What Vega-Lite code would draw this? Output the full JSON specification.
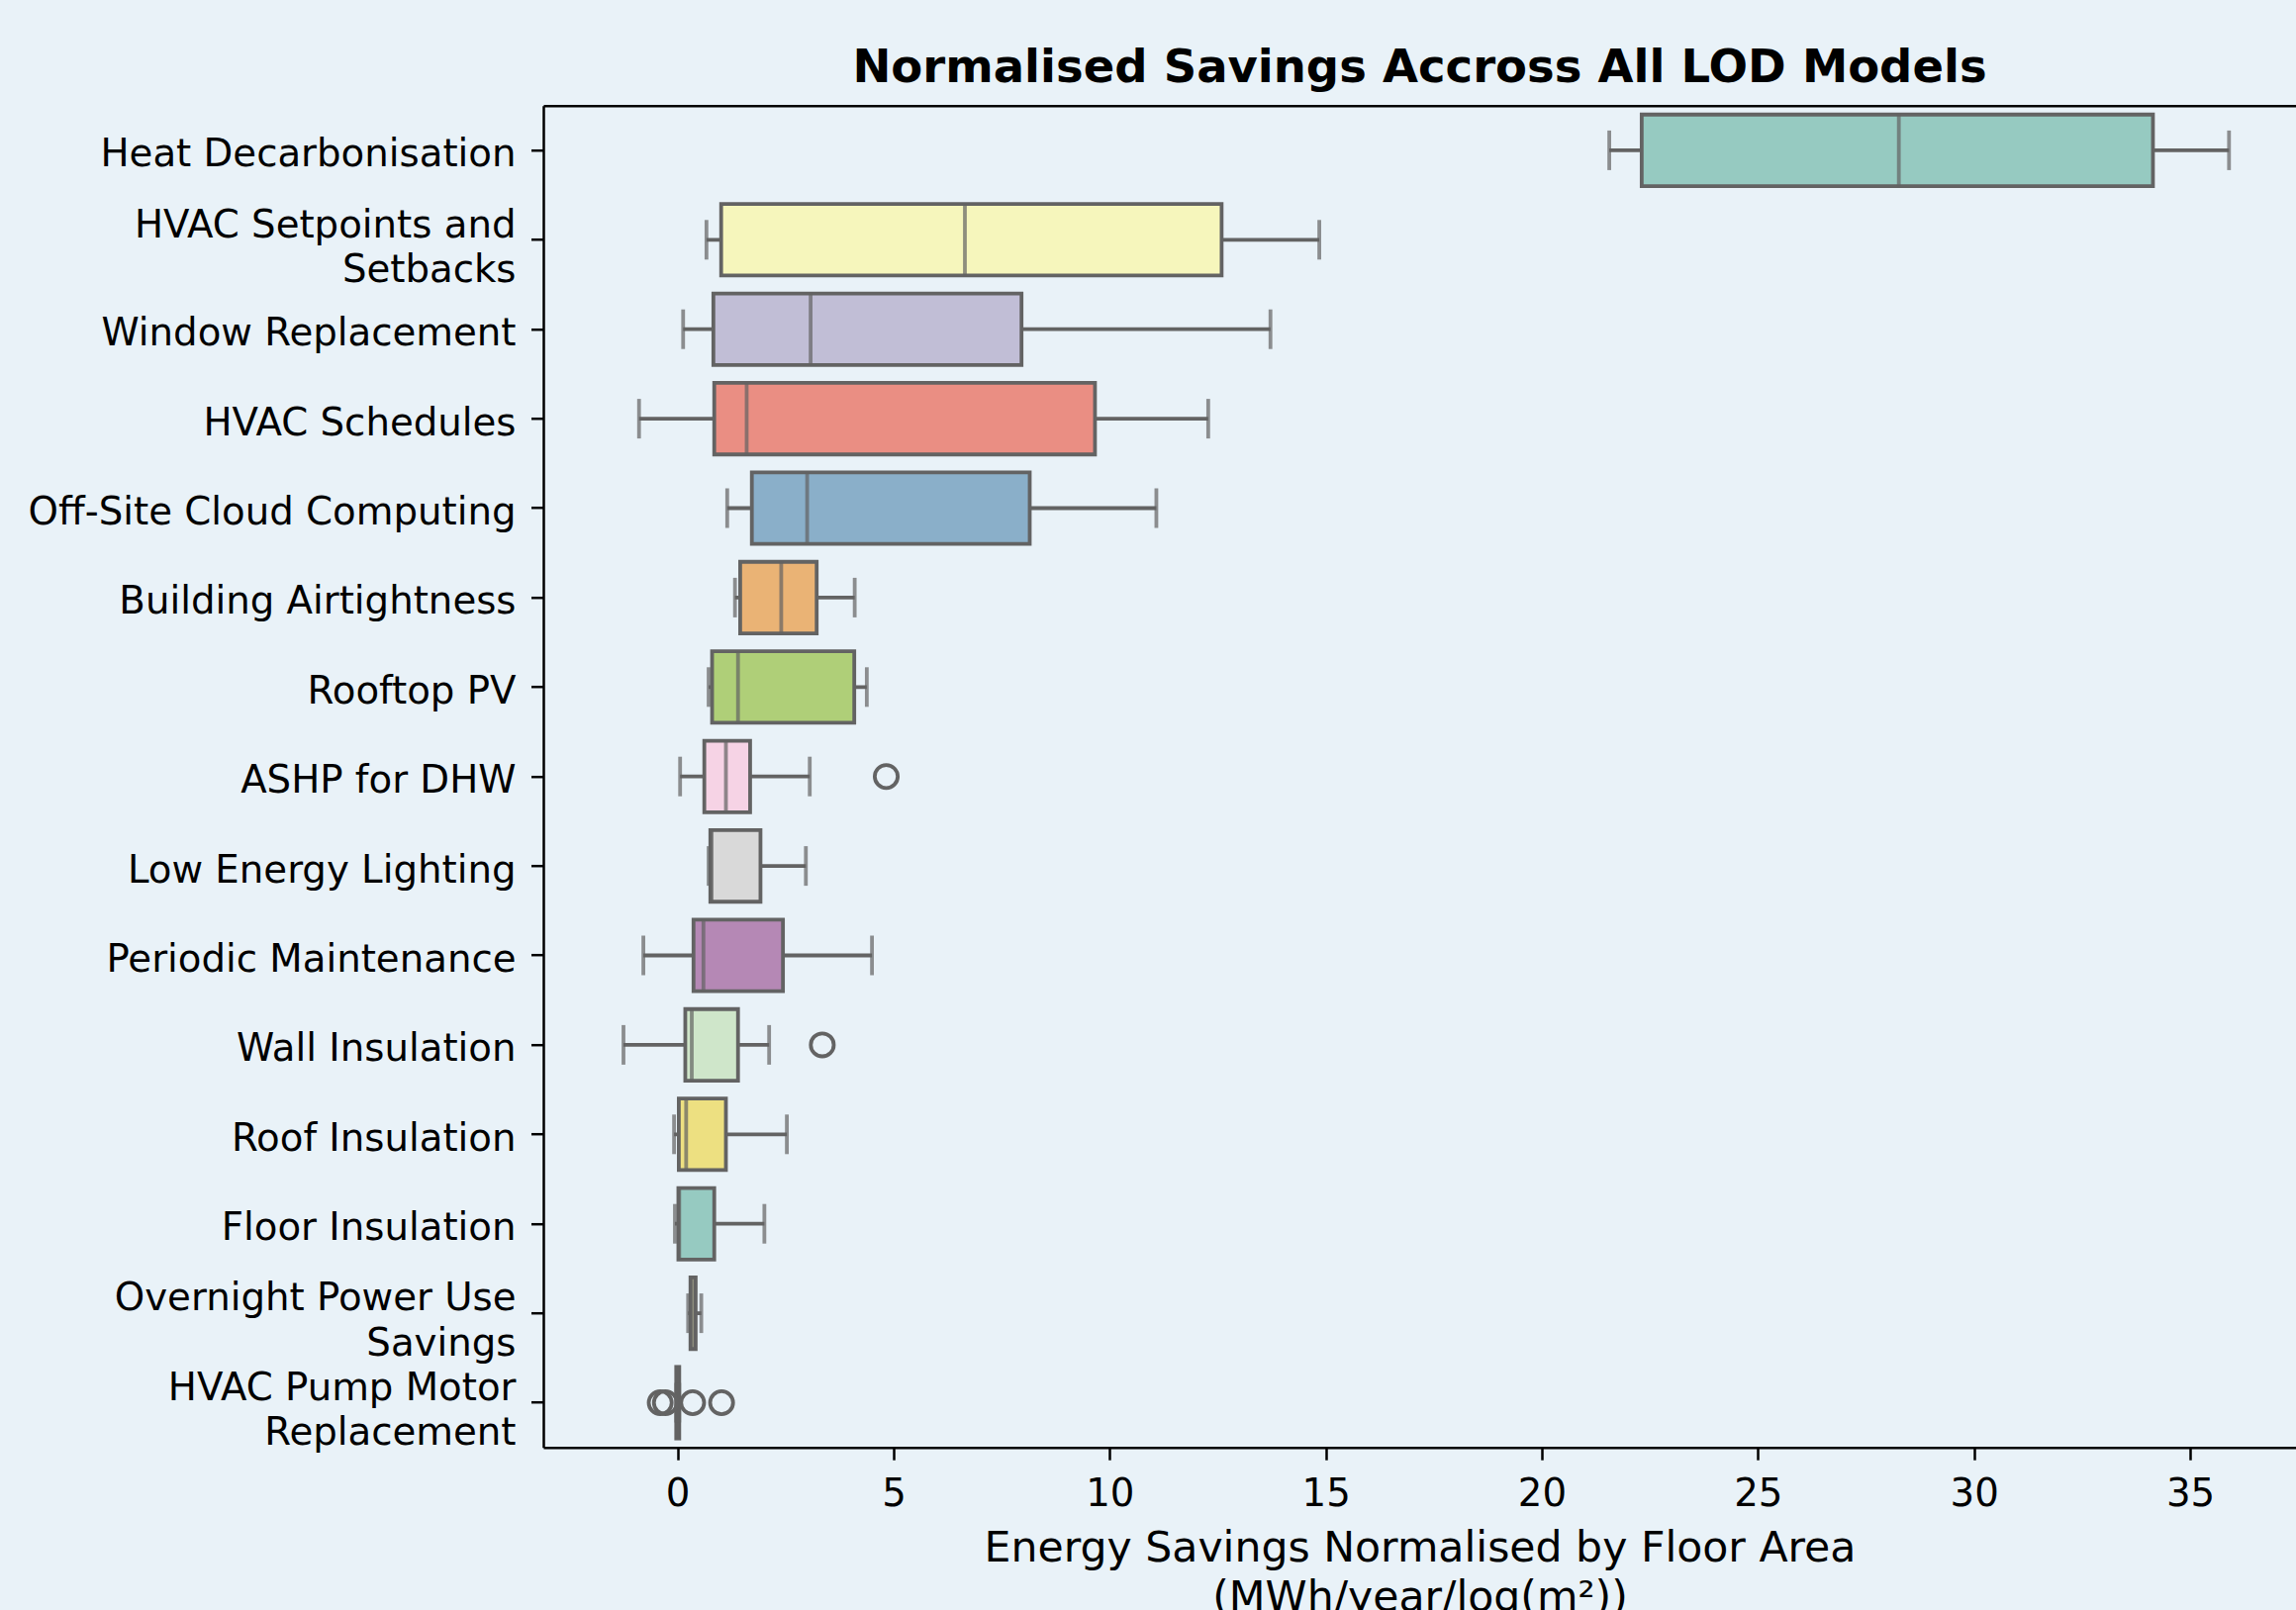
{
  "$schema": "https://vega.github.io/schema/vega-lite/v6.json",
  "autosize": {"type": "none"},
  "padding": {"left": 549, "top": 106.7, "right": 0, "bottom": 164.3},
  "width": 1771,
  "height": 1356,
  "background": "#e9f2f8",
  "config": {
    "view": {"stroke": null},
    "font": "DejaVu Sans",
    "axis": {
      "labelFont": "DejaVu Sans",
      "titleFont": "DejaVu Sans",
      "labelColor": "#000000",
      "titleColor": "#000000",
      "domainColor": "#000000",
      "tickColor": "#000000",
      "domainWidth": 2.5,
      "tickWidth": 2.5,
      "tickSize": 12.5,
      "grid": false
    }
  },
  "title": {
    "text": "Normalised Savings Accross All LOD Models",
    "font": "DejaVu Sans",
    "fontSize": 46.5,
    "fontWeight": "bold",
    "color": "#000000",
    "anchor": "middle",
    "baseline": "alphabetic",
    "offset": -23
  },
  "datasets": {
    "boxes": [
      {"name": "Heat Decarbonisation", "lo": 21.56, "q1": 22.31, "med": 28.26, "q3": 34.14, "hi": 35.90},
      {"name": "HVAC Setpoints and Setbacks", "lo": 0.67, "q1": 1.01, "med": 6.65, "q3": 12.59, "hi": 14.85},
      {"name": "Window Replacement", "lo": 0.13, "q1": 0.83, "med": 3.08, "q3": 7.96, "hi": 13.72},
      {"name": "HVAC Schedules", "lo": -0.89, "q1": 0.85, "med": 1.60, "q3": 9.66, "hi": 12.28},
      {"name": "Off-Site Cloud Computing", "lo": 1.15, "q1": 1.72, "med": 3.00, "q3": 8.15, "hi": 11.08},
      {"name": "Building Airtightness", "lo": 1.33, "q1": 1.45, "med": 2.40, "q3": 3.22, "hi": 4.10},
      {"name": "Rooftop PV", "lo": 0.72, "q1": 0.80, "med": 1.40, "q3": 4.09, "hi": 4.38},
      {"name": "ASHP for DHW", "lo": 0.06, "q1": 0.62, "med": 1.12, "q3": 1.68, "hi": 3.06},
      {"name": "Low Energy Lighting", "lo": 0.72, "q1": 0.76, "med": 0.79, "q3": 1.92, "hi": 2.97},
      {"name": "Periodic Maintenance", "lo": -0.79, "q1": 0.37, "med": 0.60, "q3": 2.44, "hi": 4.50},
      {"name": "Wall Insulation", "lo": -1.25, "q1": 0.18, "med": 0.33, "q3": 1.40, "hi": 2.12},
      {"name": "Roof Insulation", "lo": -0.08, "q1": 0.03, "med": 0.20, "q3": 1.12, "hi": 2.53},
      {"name": "Floor Insulation", "lo": -0.06, "q1": 0.02, "med": 0.04, "q3": 0.85, "hi": 2.01},
      {"name": "Overnight Power Use Savings", "lo": 0.245, "q1": 0.30, "med": 0.36, "q3": 0.42, "hi": 0.55},
      {"name": "HVAC Pump Motor Replacement", "lo": -0.03, "q1": -0.03, "med": 0.0, "q3": 0.04, "hi": 0.04}
    ],
    "outliers": [
      {"name": "ASHP for DHW", "value": 4.83},
      {"name": "Wall Insulation", "value": 3.35},
      {"name": "HVAC Pump Motor Replacement", "value": -0.40},
      {"name": "HVAC Pump Motor Replacement", "value": -0.28},
      {"name": "HVAC Pump Motor Replacement", "value": 0.35},
      {"name": "HVAC Pump Motor Replacement", "value": 1.02}
    ]
  },
  "resolve": {"axis": {"x": "independent"}},
  "layer": [
    {
      "data": {"name": "boxes"},
      "mark": {"type": "rule", "color": "#636363", "strokeWidth": 3.8},
      "encoding": {
        "y": {
          "field": "name", "type": "nominal",
          "sort": ["Heat Decarbonisation", "HVAC Setpoints and Setbacks", "Window Replacement", "HVAC Schedules", "Off-Site Cloud Computing", "Building Airtightness", "Rooftop PV", "ASHP for DHW", "Low Energy Lighting", "Periodic Maintenance", "Wall Insulation", "Roof Insulation", "Floor Insulation", "Overnight Power Use Savings", "HVAC Pump Motor Replacement"],
          "scale": {"paddingInner": 0, "paddingOuter": 0},
          "axis": {
            "title": null,
            "labelFontSize": 38.7,
            "labelPadding": 15.5,
            "labelLimit": 2000,
            "labelLineHeight": 45.7,
            "labelBaseline": "middle",
            "labelOffset": {"condition": {"test": "datum.value == 'HVAC Setpoints and Setbacks' || datum.value == 'Overnight Power Use Savings' || datum.value == 'HVAC Pump Motor Replacement'", "value": -14.7}, "value": 4.4},
            "labelExpr": "datum.label == 'HVAC Setpoints and Setbacks' ? ['HVAC Setpoints and', 'Setbacks'] : datum.label == 'Overnight Power Use Savings' ? ['Overnight Power Use', 'Savings'] : datum.label == 'HVAC Pump Motor Replacement' ? ['HVAC Pump Motor', 'Replacement'] : datum.label"
          }
        },
        "x": {
          "field": "lo", "type": "quantitative",
          "scale": {"domain": [-3.105, 37.45], "nice": false, "zero": false},
          "axis": {
            "orient": "bottom",
            "values": [0, 5, 10, 15, 20, 25, 30, 35],
            "format": "d",
            "labelFontSize": 38.7,
            "labelBaseline": "alphabetic",
            "labelPadding": 46.5,
            "title": ["Energy Savings Normalised by Floor Area", "(MWh/year/log(m²))"],
            "titleFontSize": 42.6,
            "titleFontWeight": "normal",
            "titleLineHeight": 50,
            "titlePadding": 14
          }
        },
        "x2": {"field": "hi"}
      }
    },
    {
      "data": {"name": "boxes"},
      "mark": {"type": "bar", "height": {"band": 0.8}, "stroke": "#636363", "strokeWidth": 3.8},
      "encoding": {
        "y": {"field": "name", "type": "nominal", "sort": ["Heat Decarbonisation", "HVAC Setpoints and Setbacks", "Window Replacement", "HVAC Schedules", "Off-Site Cloud Computing", "Building Airtightness", "Rooftop PV", "ASHP for DHW", "Low Energy Lighting", "Periodic Maintenance", "Wall Insulation", "Roof Insulation", "Floor Insulation", "Overnight Power Use Savings", "HVAC Pump Motor Replacement"]},
        "x": {
          "field": "q1", "type": "quantitative",
          "axis": {"orient": "top", "labels": false, "ticks": false, "domain": true, "title": null, "grid": false}
        },
        "x2": {"field": "q3"},
        "color": {
          "field": "name", "type": "nominal", "legend": null,
          "scale": {
            "domain": ["Heat Decarbonisation", "HVAC Setpoints and Setbacks", "Window Replacement", "HVAC Schedules", "Off-Site Cloud Computing", "Building Airtightness", "Rooftop PV", "ASHP for DHW", "Low Energy Lighting", "Periodic Maintenance", "Wall Insulation", "Roof Insulation", "Floor Insulation", "Overnight Power Use Savings", "HVAC Pump Motor Replacement"],
            "range": ["#96cac1", "#f6f6bc", "#c1bed6", "#ea8e83", "#8aafc9", "#eab375", "#afcf78", "#f6d3e5", "#d9d9d9", "#b588b5", "#cfe6ca", "#ede081", "#96cac1", "#f6f6bc", "#c1bed6"]
          }
        }
      }
    },
    {
      "data": {"name": "boxes"},
      "mark": {"type": "tick", "color": "#636363", "thickness": 3.8, "size": 72.3, "orient": "vertical"},
      "encoding": {
        "y": {"field": "name", "type": "nominal", "sort": ["Heat Decarbonisation", "HVAC Setpoints and Setbacks", "Window Replacement", "HVAC Schedules", "Off-Site Cloud Computing", "Building Airtightness", "Rooftop PV", "ASHP for DHW", "Low Energy Lighting", "Periodic Maintenance", "Wall Insulation", "Roof Insulation", "Floor Insulation", "Overnight Power Use Savings", "HVAC Pump Motor Replacement"]},
        "x": {"field": "med", "type": "quantitative", "axis": null}
      }
    },
    {
      "data": {"name": "boxes"},
      "mark": {"type": "tick", "color": "#636363", "thickness": 3.8, "size": 40, "orient": "vertical"},
      "encoding": {
        "y": {"field": "name", "type": "nominal", "sort": ["Heat Decarbonisation", "HVAC Setpoints and Setbacks", "Window Replacement", "HVAC Schedules", "Off-Site Cloud Computing", "Building Airtightness", "Rooftop PV", "ASHP for DHW", "Low Energy Lighting", "Periodic Maintenance", "Wall Insulation", "Roof Insulation", "Floor Insulation", "Overnight Power Use Savings", "HVAC Pump Motor Replacement"]},
        "x": {"field": "lo", "type": "quantitative", "axis": null}
      }
    },
    {
      "data": {"name": "boxes"},
      "mark": {"type": "tick", "color": "#636363", "thickness": 3.8, "size": 40, "orient": "vertical"},
      "encoding": {
        "y": {"field": "name", "type": "nominal", "sort": ["Heat Decarbonisation", "HVAC Setpoints and Setbacks", "Window Replacement", "HVAC Schedules", "Off-Site Cloud Computing", "Building Airtightness", "Rooftop PV", "ASHP for DHW", "Low Energy Lighting", "Periodic Maintenance", "Wall Insulation", "Roof Insulation", "Floor Insulation", "Overnight Power Use Savings", "HVAC Pump Motor Replacement"]},
        "x": {"field": "hi", "type": "quantitative", "axis": null}
      }
    },
    {
      "data": {"name": "outliers"},
      "mark": {"type": "point", "shape": "circle", "filled": false, "stroke": "#636363", "strokeWidth": 3.8, "size": 540, "opacity": 1},
      "encoding": {
        "y": {"field": "name", "type": "nominal", "sort": ["Heat Decarbonisation", "HVAC Setpoints and Setbacks", "Window Replacement", "HVAC Schedules", "Off-Site Cloud Computing", "Building Airtightness", "Rooftop PV", "ASHP for DHW", "Low Energy Lighting", "Periodic Maintenance", "Wall Insulation", "Roof Insulation", "Floor Insulation", "Overnight Power Use Savings", "HVAC Pump Motor Replacement"]},
        "x": {"field": "value", "type": "quantitative", "axis": null}
      }
    }
  ]
}
